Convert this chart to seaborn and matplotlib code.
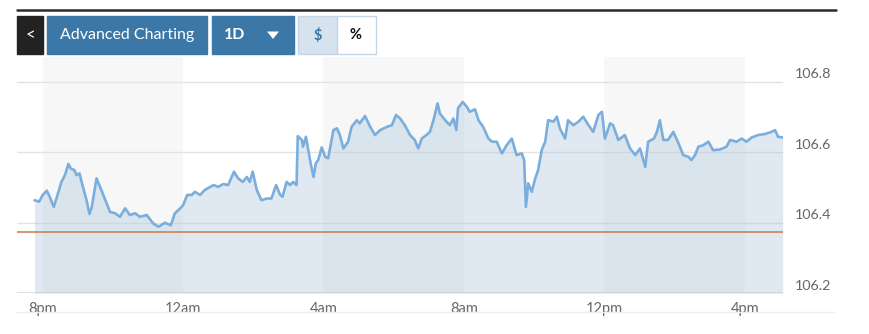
import matplotlib
matplotlib.use("Agg")
import matplotlib.pyplot as plt
import seaborn as sns
from matplotlib.patches import Rectangle, Polygon
from matplotlib.lines import Line2D

# ---- data (minutes after 8pm, price) ----
minutes = [-14, -6, 0, 7, 12, 19, 27, 32, 38, 44,
           48, 54, 58, 63, 68, 75, 80, 84, 92, 98,
           106, 115, 124, 132, 141, 149, 158, 166, 178, 189,
           198, 209, 219, 226, 235, 240, 247, 255, 260, 269,
           277, 292, 300, 309, 317, 327, 334, 342, 349, 354,
           359, 366, 374, 383, 391, 399, 406, 410, 417, 423,
           428, 434, 436, 443, 445, 450, 454, 458, 463, 467,
           471, 477, 483, 488, 497, 503, 508, 514, 522, 528,
           537, 542, 551, 560, 568, 577, 588, 597, 604, 611,
           619, 628, 636, 642, 648, 656, 662, 668, 675, 679,
           688, 696, 702, 707, 710, 718, 725, 730, 739, 745,
           753, 762, 768, 776, 785, 793, 802, 810, 819, 823,
           826, 830, 836, 842, 847, 853, 859, 864, 873, 879,
           884, 893, 898, 907, 916, 924, 933, 941, 950, 956,
           961, 970, 975, 984, 995, 1004, 1013, 1021, 1030, 1035,
           1045, 1050, 1055, 1061, 1069, 1078, 1087, 1095, 1104, 1109,
           1115, 1121, 1129, 1138, 1146, 1158, 1169, 1175, 1186, 1195,
           1203, 1212, 1223, 1235, 1246, 1252, 1257, 1265]
prices = [106.464, 106.460, 106.479, 106.491, 106.474, 106.445, 106.488, 106.516, 106.535, 106.567,
          106.554, 106.550, 106.535, 106.540, 106.507, 106.464, 106.425, 106.445, 106.526, 106.502,
          106.469, 106.431, 106.427, 106.417, 106.441, 106.422, 106.427, 106.417, 106.422, 106.398,
          106.389, 106.400, 106.393, 106.427, 106.441, 106.450, 106.479, 106.479, 106.488, 106.479,
          106.493, 106.507, 106.502, 106.510, 106.507, 106.545, 106.526, 106.516, 106.530, 106.516,
          106.545, 106.493, 106.464, 106.469, 106.469, 106.507, 106.479, 106.474, 106.516, 106.507,
          106.516, 106.507, 106.646, 106.635, 106.616, 106.644, 106.606, 106.569, 106.530, 106.569,
          106.578, 106.614, 106.587, 106.583, 106.663, 106.668, 106.649, 106.611, 106.630, 106.672,
          106.691, 106.682, 106.703, 106.672, 106.649, 106.663, 106.672, 106.677, 106.706, 106.696,
          106.677, 106.649, 106.635, 106.611, 106.639, 106.649, 106.658, 106.691, 106.739, 106.710,
          106.691, 106.677, 106.696, 106.663, 106.725, 106.743, 106.729, 106.715, 106.722, 106.691,
          106.672, 106.639, 106.630, 106.630, 106.597, 106.620, 106.639, 106.592, 106.597, 106.578,
          106.445, 106.512, 106.488, 106.526, 106.550, 106.606, 106.630, 106.691, 106.687, 106.701,
          106.668, 106.639, 106.691, 106.677, 106.687, 106.701, 106.677, 106.658, 106.706, 106.715,
          106.639, 106.682, 106.677, 106.635, 106.649, 106.611, 106.592, 106.611, 106.559, 106.630,
          106.639, 106.658, 106.691, 106.635, 106.635, 106.658, 106.625, 106.592, 106.587, 106.578,
          106.592, 106.616, 106.620, 106.630, 106.606, 106.608, 106.616, 106.635, 106.630, 106.639,
          106.630, 106.642, 106.649, 106.652, 106.658, 106.663, 106.644, 106.642]
prev_close = 106.373
x_tick_pos = [0, 240, 480, 720, 960, 1200]
x_tick_labels = ["8pm", "12am", "4am", "8am", "12pm", "4pm"]
y_ticks = [106.2, 106.4, 106.6, 106.8]
band_starts = [0, 480, 960]
band_width = 240

W, H = 870, 334
sns.set_style("white")
plt.rcParams['font.family'] = ['Lato', 'DejaVu Sans']

fig = plt.figure(figsize=(W / 100, H / 100), dpi=100)


def fx(px):
    return px / W


def fy(py):
    return 1 - py / H


ax_left, ax_right, ax_top, ax_bot = 17, 783, 57, 293.3
px_per_unit = 352.5
ax = fig.add_axes([fx(ax_left), fy(ax_bot), (ax_right - ax_left) / W, (ax_bot - ax_top) / H])
ymin = 106.2
ymax = 106.2 + (ax_bot - ax_top) / px_per_unit
ax.set_xlim(-43.9, 1265.5)
ax.set_ylim(ymin, ymax)

for b in band_starts:
    ax.axvspan(b, b + band_width, color="#f7f7f7", lw=0, zorder=0)

for v in y_ticks[1:]:
    ax.axhline(v, color="#e3e3e3", lw=1, zorder=1)
ax.axhline(106.2, color="#dcdcdc", lw=1.2, zorder=1)

ax.fill_between(minutes, prices, ymin, color="#a9c4d9", alpha=0.36, lw=0, zorder=2)
sns.lineplot(x=minutes, y=prices, ax=ax, color="#7aaedc", linewidth=1.9, zorder=3)
ax.axhline(prev_close, color="#c87a4a", lw=1.1, zorder=4)

for s in ax.spines.values():
    s.set_visible(False)
ax.set_yticks([])
ax.set_xticks(x_tick_pos)
ax.set_xticklabels(x_tick_labels)
ax.tick_params(axis="x", length=4, width=1, color="#d8d8d8", pad=2, labelsize=10.5, labelcolor="#666666")
ax.set_xlabel("")
ax.set_ylabel("")

for v in y_ticks:
    fig.text(fx(795), fy(ax_bot - (v - ymin) * px_per_unit - 7.5), f"{v:.1f}", fontsize=10.3,
             color="#666666", ha="left", va="center")

# top rule and bottom line
fig.add_artist(Line2D([fx(17), fx(836)], [fy(10), fy(10)], color="#2b2b2b", lw=1.8))
fig.add_artist(Line2D([fx(17), fx(834)], [fy(312), fy(312)], color="#eeeeee", lw=1))


def button(x0, x1, face, edge=None):
    r = Rectangle((fx(x0), fy(54.3)), fx(x1 - x0), (54.3 - 15.7) / H,
                  transform=fig.transFigure, facecolor=face,
                  edgecolor=edge if edge else face, lw=1)
    fig.add_artist(r)


blue = "#3b78a8"
button(16.7, 43.3, "#222222")
button(47.3, 206.7, blue)
button(211.7, 294, blue)
button(298.3, 337.3, "#d6e3ee", "#c4d6e6")
button(337.3, 375.7, "#ffffff", "#c4d6e6")

cy = fy(35)
fig.text(fx(30), cy, "<", color="white", fontsize=12, ha="center", va="center")
fig.text(fx(127), cy, "Advanced Charting", color="white", fontsize=11.5, ha="center", va="center")
fig.text(fx(235), cy, "1D", color="white", fontsize=11.5, ha="center", va="center", fontweight="bold")
tri = Polygon([[fx(267), fy(31.5)], [fx(279), fy(31.5)], [fx(273), fy(39)]], closed=True,
              transform=fig.transFigure, facecolor="white", edgecolor="none")
fig.add_artist(tri)
fig.text(fx(318), cy, "$", color="#3b78a8", fontsize=10.5, ha="center", va="center", fontweight="bold")
fig.text(fx(356), cy, "%", color="#111111", fontsize=10.5, ha="center", va="center", fontweight="bold")

fig.savefig("out.png", dpi=100, facecolor="white")
